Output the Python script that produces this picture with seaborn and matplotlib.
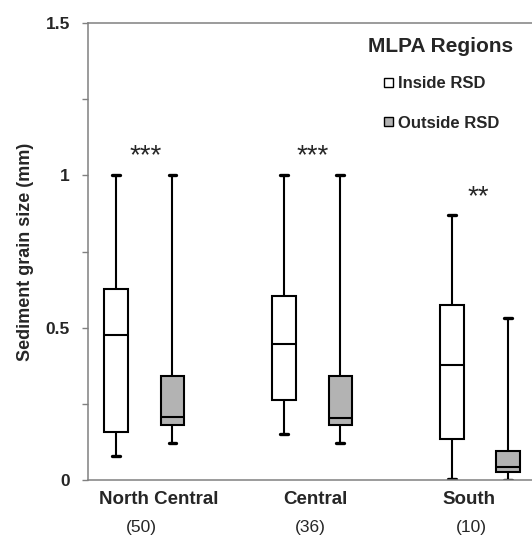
import numpy as np
import pandas as pd
import matplotlib
matplotlib.use("Agg")
import matplotlib.pyplot as plt
import matplotlib.transforms as mtransforms
from matplotlib.patches import Patch
from matplotlib.ticker import FixedLocator
import seaborn as sns

# ---------------- data ----------------
regions = ["North Central", "Central", "South"]
sample_sizes = ["(50)", "(36)", "(10)"]
groups = ["Inside RSD", "Outside RSD"]
significance = ["***", "***", "**"]

inside_min = [0.08, 0.153, 0.003]
inside_q1 = [0.158, 0.264, 0.134]
inside_median = [0.477, 0.448, 0.378]
inside_q3 = [0.626, 0.605, 0.574]
inside_max = [1.0, 1.0, 0.870]

outside_min = [0.121, 0.121, 0.0]
outside_q1 = [0.181, 0.181, 0.026]
outside_median = [0.207, 0.205, 0.043]
outside_q3 = [0.341, 0.341, 0.096]
outside_max = [1.0, 1.0, 0.533]

y_ticks = [0, 0.5, 1, 1.5]
y_tick_labels = ["0", "0.5", "1", "1.5"]
y_minor_ticks = [0.25, 0.75, 1.25]
y_label = "Sediment grain size (mm)"
legend_title = "MLPA Regions"

# ---------------- build the long table (five-number summaries) ----------------
rows = []
summaries = {
    "Inside RSD": [inside_min, inside_q1, inside_median, inside_q3, inside_max],
    "Outside RSD": [outside_min, outside_q1, outside_median, outside_q3, outside_max],
}
for g in groups:
    for i, r in enumerate(regions):
        for stat in summaries[g]:
            rows.append({"region": r, "group": g, "value": stat[i]})
df = pd.DataFrame(rows)

# ---------------- style ----------------
sns.set_style("white")
plt.rcParams["font.family"] = ["Liberation Sans", "DejaVu Sans"]

W, H = 532, 539
fig = plt.figure(figsize=(W / 100, H / 100), dpi=100)
ax = fig.add_axes([88 / W, 1 - 480.3 / H, 1 - 88 / W, (480.3 - 23) / H])

fill_colors = {"Inside RSD": "white", "Outside RSD": "#b3b3b3"}
sns.boxplot(
    data=df, x="region", y="value", hue="group",
    order=regions, hue_order=groups, palette=fill_colors,
    width=0.67, gap=0.585, whis=np.inf, showfliers=False,
    linewidth=1.5, linecolor="black", saturation=1, legend=False,
    capwidths=0.045, capprops=dict(color="black", linewidth=2.4),
    ax=ax,
)

ax.set_xlim(-0.335, 2.31)
ax.set_ylim(0, 1.5)

# spines
for side in ["left", "bottom", "top"]:
    ax.spines[side].set_visible(True)
    ax.spines[side].set_color("#808080")
    ax.spines[side].set_linewidth(1.1)
ax.spines["right"].set_visible(False)

# y ticks
ax.set_yticks(y_ticks)
ax.set_yticklabels(y_tick_labels, fontsize=12.5, fontweight="bold")
ax.yaxis.set_minor_locator(FixedLocator(y_minor_ticks))
ax.tick_params(axis="y", which="both", direction="out", length=4, width=1,
               color="#808080", left=True, pad=9)
ax.set_ylabel(y_label, fontsize=13, fontweight="bold", labelpad=8)

# x: custom labels
ax.set_xticks([])
ax.set_xlabel("")
trans = mtransforms.blended_transform_factory(ax.transData, ax.transAxes)
label_offsets = [0.084, 0.02, -0.066]
count_offsets = [-0.019, -0.008, -0.054]
for i, (r, n) in enumerate(zip(regions, sample_sizes)):
    ax.text(i + label_offsets[i], -0.041, r, transform=trans, ha="center",
            va="center", fontsize=13.5, fontweight="bold", clip_on=False)
    ax.text(i + count_offsets[i], -0.104, n, transform=trans, ha="center",
            va="center", fontsize=12.5, clip_on=False)

# significance stars
star_offsets = [0.008, 0.002, -0.011]
star_heights = [1.04, 1.04, 0.905]
for i, s in enumerate(significance):
    ax.text(i + star_offsets[i], star_heights[i], s, ha="center", va="baseline",
            fontsize=20)

# legend (title drawn as its own text so the spacing matches)
fig.text(440.5 / W, 1 - 46 / H, legend_title, ha="center", va="center",
         fontsize=15, fontweight="bold")
handles = [Patch(facecolor=fill_colors[g], edgecolor="black", linewidth=1.0,
                 label=g) for g in groups]
leg = ax.legend(handles=handles, frameon=False,
                loc="upper left", bbox_to_anchor=(371 / W, 1 - 63 / H),
                bbox_transform=fig.transFigure,
                prop=dict(size=12, weight="bold"),
                handlelength=0.5, handleheight=0.5, handletextpad=0.3,
                labelspacing=1.45, borderpad=0.3)

fig.savefig("out.png", dpi=100)
